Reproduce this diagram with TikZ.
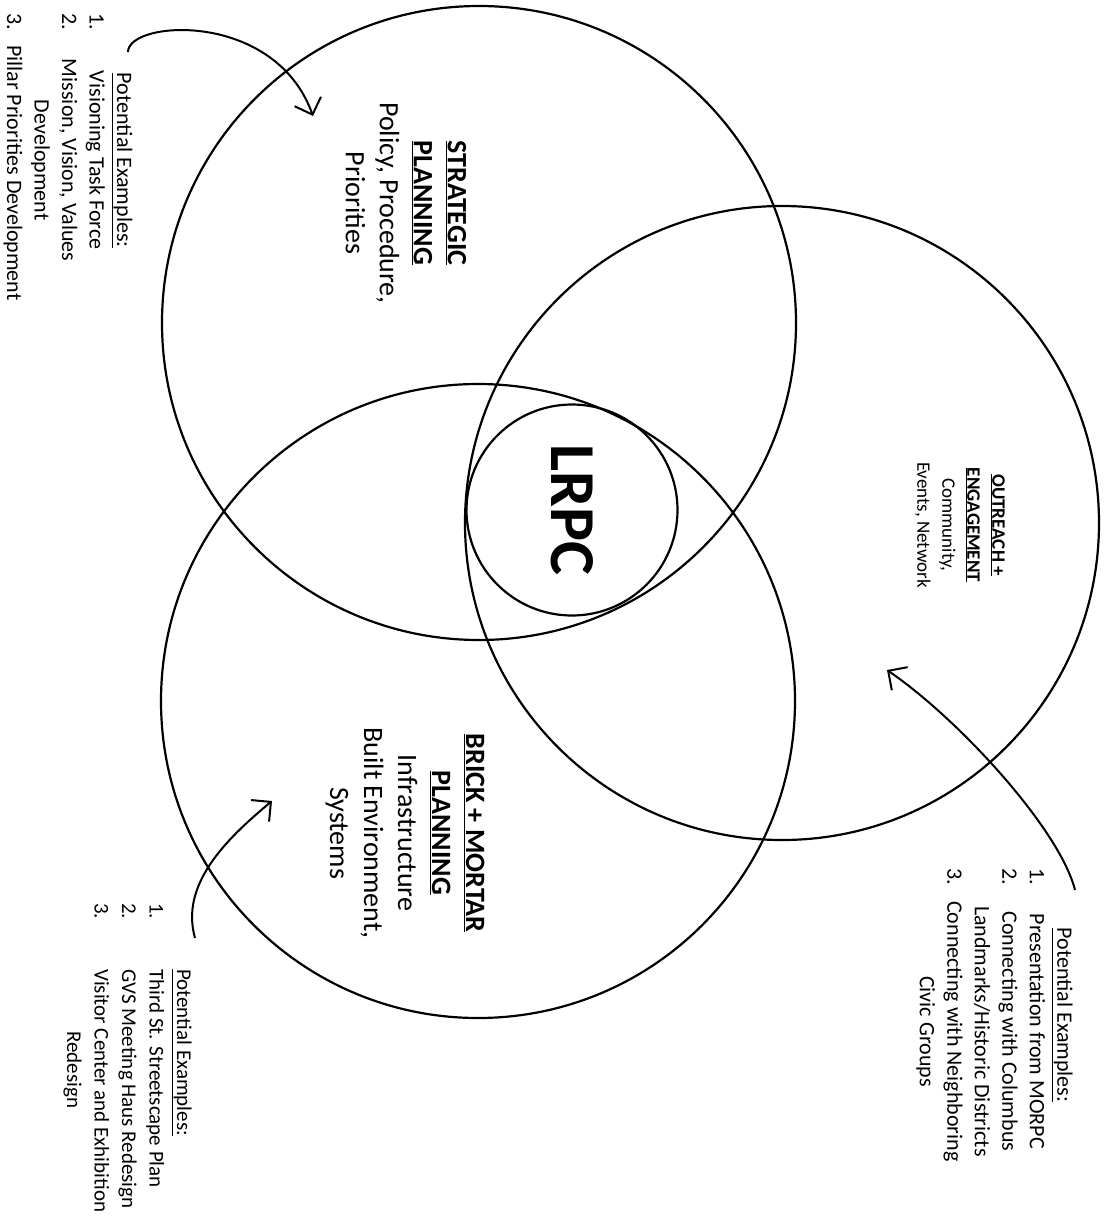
\documentclass[tikz,border=0pt]{standalone}
\usepackage{fontspec}
\setmainfont{Carlito}
\usepackage{tikz}
\usetikzlibrary{arrows.meta}
\newcommand{\exhead}{\underline{Potential Examples:}}

\begin{document}
\begin{tikzpicture}[x=1pt, y=-1pt,
		ring/.style={draw, circle, line width=2.2pt, inner sep=0pt, minimum size=634pt},
		pointer/.style={draw, line width=2pt, -{Straight Barb[length=14pt, width=28pt]}},
		turned/.style={rotate=-90, align=center},
		pillar/.style={turned, font=\fontsize{28}{34}\selectfont},
		small/.style={turned, font=\fontsize{19}{25}\selectfont},
		examples/.style={rotate=-90, anchor=west, inner sep=0pt, font=\fontsize{22}{27.5}\selectfont} ]

		\fill[white] (0,0) rectangle (1110,1219);
		\useasboundingbox (0,0) rectangle (1110,1219);

		\node[ring] (strat) at (479,323) {};
		\node[ring] (outreach) at (782,523) {};
		\node[ring] (brick) at (478,701) {};
		\node[ring, minimum size=211pt, rotate=-90, font=\fontsize{64}{64}\selectfont\bfseries] (lrpc) at (572,510) {LRPC};

		\node[pillar] (stratText) at (406,203) {\textbf{\underline{STRATEGIC}}\\ \textbf{\underline{PLANNING}}\\ Policy, Procedure,\\ Priorities};
		\node[small] (outreachText) at (960,525) {\textbf{\underline{OUTREACH +}}\\ \textbf{\underline{ENGAGEMENT}}\\ Community,\\ Events, Network};
		\node[pillar] (brickText) at (405,833) {\textbf{\underline{BRICK + MORTAR}}\\ \textbf{\underline{PLANNING}}\\ Infrastructure\\ Built Environment,\\ Systems};

		\node[examples] (stratEx) at (67.5,13) {\begin{tabular}{@{}p{32pt}@{}c@{}}
				& \exhead\\
				1. & \makebox[230pt]{Visioning Task Force}\\
				2. & Mission, Vision, Values\\
				& Development\\
				3. & \makebox[230pt][l]{Pillar Priorities Development}
			\end{tabular}};
		\node[examples] (outreachEx) at (994,868) {\begin{tabular}{@{}p{33pt}@{}c@{}}
				\multicolumn{2}{c}{\exhead}\\
				1. & Presentation from MORPC\\
				2. & Connecting with Columbus\\
				& Landmarks/Historic Districts\\
				3. & Connecting with Neighboring\\
				& Civic Groups
			\end{tabular}};
		\node[examples, font=\fontsize{21}{27.5}\selectfont] (brickEx) at (127.5,903) {\begin{tabular}{@{}p{66pt}@{}l@{}}
				& \exhead\\
				1. & Third St. Streetscape Plan\\
				2. & GVS Meeting Haus Redesign\\
				3. & Visitor Center and Exhibition\\
				& \hspace*{62pt}Redesign
			\end{tabular}};

		\coordinate (stratTail) at (128,52);
		\coordinate (stratTip) at (313,116);
		\coordinate (outreachTail) at (1075,890);
		\coordinate (outreachTip) at (887,670);
		\coordinate (brickTail) at (195,938);
		\coordinate (brickTip) at (272,801);
		\draw[pointer] (stratTail) .. controls (128,20) and (275,10) .. (stratTip);
		\draw[pointer] (outreachTail) .. controls (1060,830) and (960,720) .. (outreachTip);
		\draw[pointer] (brickTail) .. controls (180,885) and (225,840) .. (brickTip);
	\end{tikzpicture}
\end{document}
